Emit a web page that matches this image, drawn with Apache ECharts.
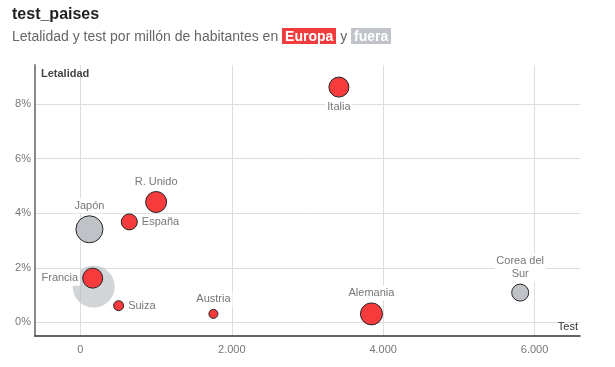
<!DOCTYPE html>
<html><head><meta charset="utf-8">
<script src="https://cdn.jsdelivr.net/npm/echarts@6/dist/echarts.min.js"></script>
<style>
html,body{margin:0;padding:0;background:#fff;}
#wrap{position:relative;width:615px;height:367px;font-family:"Liberation Sans",Arial,sans-serif;}
#t{position:absolute;left:12px;top:5px;font-size:16px;font-weight:bold;color:#222;}
#s{position:absolute;left:12px;top:28px;font-size:14px;color:#666;}
.eu{background:#f03c3c;color:#fff;font-weight:bold;padding:0 3px;}
.fu{background:#c0c3c7;color:#fff;font-weight:bold;padding:0 3px;}
#c{position:absolute;left:0;top:0;width:615px;height:367px;}
</style></head>
<body><div id="wrap"><div id="c"></div>
<div id="t">test_paises</div>
<div id="s">Letalidad y test por millón de habitantes en <span class="eu">Europa</span> y <span class="fu">fuera</span></div>
</div>
<script>
// Europe
const euNames = ["Italia","R. Unido","España","Francia","Suiza","Austria","Alemania"];
const euTest  = [3415, 1000, 646, 162, 505, 1757, 3845];
const euLet   = [8.62, 4.41, 3.68, 1.62, 0.61, 0.31, 0.31];
const euSize  = [20, 21, 16, 20, 10, 9, 22];
const euPos   = ["bottom","top","right","left","right","top","top"];
// Outside Europe
const fuNames = ["Japón","Corea del\nSur"];
const fuTest  = [119, 5810];
const fuLet   = [3.41, 1.09];
const fuSize  = [27, 17];
const fuPos   = ["top","top"];
// Unlabelled background bubble
const bgTest = [175];
const bgLet  = [1.31];
const bgSize = [42];
// Ticks
const xTicks = [0, 2000, 4000, 6000];
const yTicks = [0, 2, 4, 6, 8];

function pts(names, xs, ys, ss, pos){
  return xs.map((x,i)=>({name:names?names[i]:'', value:[x, ys[i], ss[i]],
    label:{position:pos?pos[i]:'top'}}));
}
const lab = {show:true, formatter:p=>p.name, color:'#777', fontSize:11,
  fontFamily:'Liberation Sans, Arial, sans-serif', backgroundColor:'#fff', padding:[1,2], distance:2, lineHeight:13};

const gridLines = xTicks.map(v=>({xAxis:v})).concat(yTicks.map(v=>({yAxis:v})));

const chart = echarts.init(document.getElementById('c'));
chart.setOption({
  animation:false,
  grid:{left:35, right:35, top:65, bottom:31},
  xAxis:{type:'value', min:-600, max:6600,
    axisLine:{show:true, onZero:false, lineStyle:{color:'#333', width:1.5}},
    axisTick:{show:false},
    splitLine:{show:false},
    axisLabel:{color:'#777', fontSize:11, margin:8, fontFamily:'Liberation Sans, Arial, sans-serif',
      customValues: xTicks,
      formatter:v=> (v>=1000 ? Math.floor(v/1000)+'.'+String(v%1000).padStart(3,'0') : String(v))},
    name:'Test', nameLocation:'end', nameGap:0,
    nameTextStyle:{color:'#333', fontSize:11, align:'right', verticalAlign:'bottom', padding:[0,2,4,0]}
  },
  yAxis:{type:'value', min:-0.5, max:9.43,
    axisLine:{show:true, onZero:false, lineStyle:{color:'#888', width:2}},
    axisTick:{show:false},
    splitLine:{show:false},
    axisLabel:{color:'#777', fontSize:11, margin:4, fontFamily:'Liberation Sans, Arial, sans-serif',
      customValues: yTicks, formatter:v=> v+'%'},
    name:'Letalidad', nameLocation:'end', nameGap:0,
    nameTextStyle:{color:'#444', fontSize:11, fontWeight:'bold', align:'left', verticalAlign:'top', padding:[3,0,0,6]}
  },
  series:[
    {type:'scatter', data:pts(null,bgTest,bgLet,bgSize), symbolSize:d=>d[2],
      itemStyle:{color:'rgba(185,189,193,0.8)', borderWidth:0}, z:1, silent:true,
      markLine:{silent:true, symbol:'none', label:{show:false}, z:0,
        lineStyle:{color:'#ddd', width:1, type:'solid'}, data:gridLines}},
    {type:'scatter', data:pts(fuNames,fuTest,fuLet,fuSize,fuPos), symbolSize:d=>d[2],
      itemStyle:{color:'#bfc2c6', borderColor:'#222', borderWidth:1, opacity:1}, label:lab, z:2},
    {type:'scatter', data:pts(euNames,euTest,euLet,euSize,euPos), symbolSize:d=>d[2],
      itemStyle:{color:'#f53b3b', borderColor:'#222', borderWidth:1, opacity:1}, label:lab, z:3}
  ]
});
</script></body></html>
